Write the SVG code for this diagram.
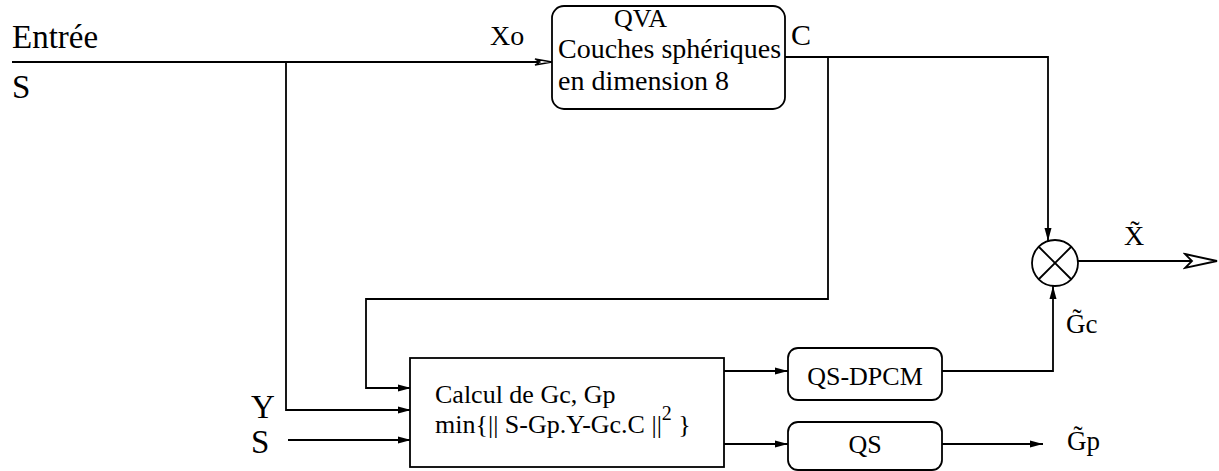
<svg xmlns="http://www.w3.org/2000/svg" width="1219" height="471" viewBox="0 0 1219 471" font-family="'Liberation Serif', 'DejaVu Serif', serif">
<style>
text{font-family:"Liberation Serif","DejaVu Serif",serif;fill:#000}
.ln{fill:none;stroke:#000;stroke-width:1.8}
.box{fill:#fff;stroke:#000;stroke-width:1.8}
</style>
<defs>
<marker id="fa" markerWidth="14" markerHeight="10" refX="13" refY="5" orient="auto" markerUnits="userSpaceOnUse">
<path d="M0,1.5 L13,5 L0,8.5 Z" fill="#000"/>
</marker>
<marker id="oa" markerWidth="20" markerHeight="8" refX="18" refY="4" orient="auto" markerUnits="userSpaceOnUse">
<path d="M1,1 L18,4 L1,7 L6,4 Z" fill="#fff" stroke="#000" stroke-width="1.3"/>
</marker>
<marker id="ob" markerWidth="36" markerHeight="18" refX="34" refY="9" orient="auto" markerUnits="userSpaceOnUse">
<path d="M2,2 L34,9 L2,16 L9,9 Z" fill="#fff" stroke="#000" stroke-width="1.8"/>
</marker>
</defs>

<g id="labels">
<text x="12" y="48" font-size="33">Entrée</text>
<text x="12" y="98" font-size="33">S</text>
<text x="490" y="45" font-size="28">Xo</text>
<text x="791" y="45" font-size="30">C</text>
<text x="251" y="418" font-size="33">Y</text>
<text x="251" y="453" font-size="33">S</text>
<text x="1124" y="245" font-size="28">X̃</text>
<text x="1066" y="333" font-size="27">G̃c</text>
<text x="1067" y="450" font-size="27">G̃p</text>
</g>

<g id="connectors">
<path class="ln" d="M12,62 L552,62" marker-end="url(#oa)"/>
<path class="ln" d="M286,62 L286,410 L411,410" marker-end="url(#fa)"/>
<path class="ln" d="M288,440 L411,440" marker-end="url(#fa)"/>
<path class="ln" d="M828,57 L828,299 L366,299 L366,388 L411,388" marker-end="url(#fa)"/>
<path class="ln" d="M785,57 L1048,57 L1048,241" marker-end="url(#fa)"/>
<path class="ln" d="M724,371 L788,371" marker-end="url(#fa)"/>
<path class="ln" d="M724,444 L788,444" marker-end="url(#fa)"/>
<path class="ln" d="M942,371 L1053,371 L1053,286" marker-end="url(#fa)"/>
<path class="ln" d="M942,444 L1043,444" marker-end="url(#fa)"/>
<path class="ln" d="M1078,261 L1217,261" marker-end="url(#ob)"/>
</g>

<g id="qva">
<rect class="box" x="552" y="6" width="233" height="103" rx="12"/>
<text x="614" y="27" font-size="26">QVA</text>
<text x="558" y="58" font-size="28">Couches sphériques</text>
<text x="558" y="90" font-size="28">en dimension 8</text>
</g>

<g id="calcul">
<rect class="box" x="410" y="358" width="314" height="109"/>
<text x="435" y="403" font-size="26">Calcul de Gc, Gp</text>
<text x="435" y="433" font-size="26">min{|| S-Gp.Y-Gc.C ||<tspan font-size="20" dy="-13">2</tspan><tspan dy="13"> }</tspan></text>
</g>

<g id="qsdpcm">
<rect class="box" x="788" y="348" width="154" height="52" rx="10"/>
<text x="865" y="385" font-size="26" text-anchor="middle">QS-DPCM</text>
</g>

<g id="qs">
<rect class="box" x="788" y="422" width="154" height="48" rx="10"/>
<text x="865" y="453" font-size="26" text-anchor="middle">QS</text>
</g>

<g id="mult">
<circle class="box" cx="1055" cy="263" r="23"/>
<path class="ln" d="M1039,247 L1071,279 M1071,247 L1039,279"/>
</g>
</svg>
